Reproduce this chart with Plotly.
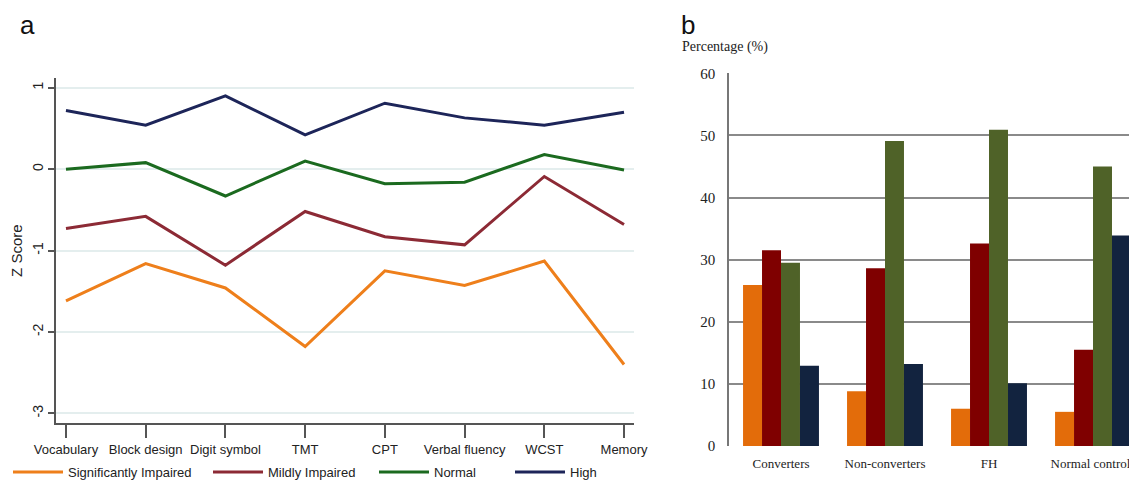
import plotly.graph_objects as go

# ---- Panel a data ----
tests = ["Vocabulary", "Block design", "Digit symbol", "TMT", "CPT",
         "Verbal fluency", "WCST", "Memory"]
significantly_impaired = [-1.62, -1.16, -1.46, -2.18, -1.25, -1.43, -1.13, -2.40]
mildly_impaired = [-0.73, -0.58, -1.18, -0.52, -0.83, -0.93, -0.09, -0.68]
normal = [0.00, 0.08, -0.33, 0.10, -0.18, -0.16, 0.18, -0.01]
high = [0.72, 0.54, 0.90, 0.42, 0.81, 0.63, 0.54, 0.70]
line_names = ["Significantly Impaired", "Mildly Impaired", "Normal", "High"]
line_colors = ["#ee7f1b", "#8c2a35", "#1b6a1f", "#1d2559"]
z_ticks = [1, 0, -1, -2, -3]

# ---- Panel b data ----
groups = ["Converters", "Non-converters", "FH", "Normal controls"]
pct_significant = [25.9, 8.8, 6.0, 5.5]
pct_mild = [31.5, 28.6, 32.6, 15.5]
pct_normal = [29.5, 49.1, 50.9, 45.0]
pct_high = [12.9, 13.2, 10.1, 33.9]
bar_colors = ["#e36c0a", "#7f0000", "#4f6228", "#12233f"]
pct_ticks = [0, 10, 20, 30, 40, 50, 60]

# page body has an 8px margin; figure is sized so it ends at the window edge
OFF = 8
W, H = 1137 - OFF, 483 - OFF


def px_x(p):
    return (p - OFF) / W


def px_y(p):
    return 1 - (p - OFF) / H


legend_ids = ["legend", "legend2", "legend3", "legend4"]
legend_x = [8, 208, 374, 510]

fig = go.Figure()

for name, vals, col, lid in zip(line_names,
                                [significantly_impaired, mildly_impaired, normal, high],
                                line_colors, legend_ids):
    fig.add_trace(go.Scatter(x=list(range(len(tests))), y=vals, mode="lines",
                             name=name, line=dict(color=col, width=3),
                             xaxis="x", yaxis="y", legend=lid))

for vals, col in zip([pct_significant, pct_mild, pct_normal, pct_high], bar_colors):
    fig.add_trace(go.Bar(x=list(range(len(groups))), y=vals,
                         marker=dict(color=col, line=dict(width=0)),
                         showlegend=False, xaxis="x2", yaxis="y2"))

# zero reference line (dotted)
fig.add_shape(type="line", xref="x domain", yref="y", x0=0, x1=1, y0=0, y1=0,
              line=dict(color="#9a9a9a", width=1.5, dash="dot"), layer="below")

legends = {}
for lid, lx in zip(legend_ids, legend_x):
    legends[lid] = dict(orientation="h", x=px_x(lx), y=px_y(472), xanchor="left",
                        yanchor="middle", itemwidth=50,
                        font=dict(size=13, color="#222"), bgcolor="rgba(0,0,0,0)")

fig.update_layout(
    width=W, height=H,
    margin=dict(l=0, r=0, t=0, b=0, autoexpand=False),
    paper_bgcolor="white", plot_bgcolor="white",
    barmode="group", bargap=0.27, bargroupgap=0,
    font=dict(family="Liberation Sans, Arial", color="#222"),
    xaxis=dict(domain=[px_x(56), px_x(634)], range=[-0.125, 7.125], automargin=False,
               tickmode="array", tickvals=list(range(len(tests))), ticktext=tests,
               showgrid=False, zeroline=False, showline=True, linecolor="#555", linewidth=1.5,
               ticks="outside", ticklen=13, tickwidth=1.5, tickcolor="#555",
               tickfont=dict(size=13, color="#222"), anchor="y"),
    yaxis=dict(domain=[px_y(423.3), px_y(78)], range=[-3.123, 1.12], automargin=False,
               tickmode="array", tickvals=z_ticks, ticktext=[str(v) for v in z_ticks],
               tickangle=-90, showgrid=True, gridcolor="#e4eeee", gridwidth=1.5,
               zeroline=False, showline=True, linecolor="#555", linewidth=1.5,
               ticks="outside", ticklen=6, tickwidth=1.5, tickcolor="#555",
               tickfont=dict(size=14, color="#222"),
               title=dict(text="Z Score", font=dict(size=15, color="#222"), standoff=4),
               anchor="x"),
    xaxis2=dict(domain=[px_x(729), 1.0], range=[-0.5, 3.423], automargin=False,
                tickmode="array", tickvals=list(range(len(groups))), ticktext=groups,
                showgrid=False, zeroline=False, showline=False, ticks="",
                ticklabelstandoff=8,
                tickfont=dict(family="Liberation Serif, Times New Roman", size=13, color="#222"),
                anchor="y2"),
    yaxis2=dict(domain=[px_y(446), px_y(73.3)], range=[0, 60], automargin=False,
                tickmode="array", tickvals=pct_ticks,
                showgrid=True, gridcolor="#8a8a8a", gridwidth=1.5,
                zeroline=False, showline=True, linecolor="#777", linewidth=1.5,
                ticks="", ticklabelstandoff=9,
                tickfont=dict(family="Liberation Serif, Times New Roman", size=15, color="#222"),
                anchor="x2"),
    annotations=[
        dict(text="a", x=px_x(18), y=px_y(8), xref="paper", yref="paper",
             xanchor="left", yanchor="top", showarrow=False,
             font=dict(size=26, color="#111", family="Liberation Sans, Arial")),
        dict(text="b", x=px_x(679), y=px_y(8), xref="paper", yref="paper",
             xanchor="left", yanchor="top", showarrow=False,
             font=dict(size=26, color="#111", family="Liberation Sans, Arial")),
        dict(text="Percentage (%)", x=px_x(680), y=px_y(47), xref="paper", yref="paper",
             xanchor="left", yanchor="middle", showarrow=False,
             font=dict(size=14, color="#222", family="Liberation Serif, Times New Roman")),
    ],
    **legends,
)

fig.write_html("out.html")
